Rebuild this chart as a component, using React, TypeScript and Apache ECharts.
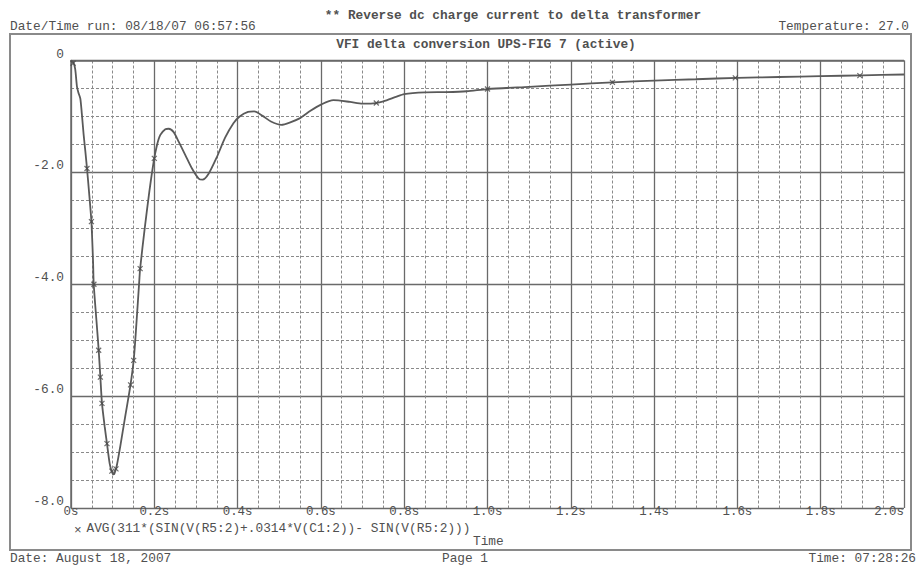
import React, { useEffect, useRef } from "react";
import * as echarts from "echarts";

// time (s) and value of the plotted trace
const TIME = [0, 0.005, 0.010, 0.0144, 0.018, 0.0224, 0.026, 0.0304, 0.0344, 0.0384, 0.044, 0.049, 0.053, 0.0545, 0.061, 0.0665, 0.0705, 0.0744, 0.081, 0.0864, 0.093, 0.0984, 0.102, 0.104, 0.110, 0.118, 0.130, 0.142, 0.1505, 0.156, 0.164, 0.166, 0.177, 0.188, 0.1985, 0.2065, 0.2145, 0.2265, 0.2345, 0.2465, 0.2585, 0.2745, 0.2905, 0.3065, 0.316, 0.33, 0.35, 0.37, 0.39, 0.405, 0.425, 0.44, 0.46, 0.48, 0.505, 0.525, 0.55, 0.575, 0.60, 0.63, 0.67, 0.70, 0.72, 0.75, 0.78, 0.80, 0.85, 0.90, 0.95, 1.0, 1.1, 1.2, 1.3, 1.4, 1.5, 1.6, 1.7, 1.8, 1.9, 2.0];
const VALUE = [0, -0.02, -0.15, -0.47, -0.58, -0.68, -0.95, -1.33, -1.62, -1.93, -2.41, -2.88, -3.6, -3.99, -4.64, -5.18, -5.66, -6.13, -6.55, -6.85, -7.21, -7.36, -7.40, -7.39, -7.24, -6.91, -6.37, -5.84, -5.36, -4.82, -3.93, -3.72, -3.0, -2.35, -1.81, -1.51, -1.33, -1.23, -1.22, -1.28, -1.45, -1.69, -1.93, -2.11, -2.13, -2.03, -1.73, -1.38, -1.12, -1.00, -0.92, -0.91, -0.99, -1.09, -1.15, -1.11, -1.03, -0.90, -0.79, -0.71, -0.74, -0.77, -0.77, -0.73, -0.65, -0.60, -0.57, -0.565, -0.55, -0.51, -0.47, -0.43, -0.39, -0.36, -0.335, -0.31, -0.295, -0.28, -0.265, -0.25];

// "x" data-point markers
const MARK_TIME = [0.005, 0.0384, 0.049, 0.055, 0.0665, 0.0705, 0.0744, 0.0864, 0.098, 0.108, 0.143, 0.1505, 0.166, 0.2, 0.733, 1.0, 1.3, 1.595, 1.894];
const MARK_VALUE = [-0.05, -1.93, -2.88, -4.0, -5.18, -5.66, -6.13, -6.85, -7.34, -7.30, -5.80, -5.36, -3.72, -1.75, -0.76, -0.51, -0.39, -0.31, -0.27];

const X_TICK_LABELS = ["0s", "0.2s", "0.4s", "0.6s", "0.8s", "1.0s", "1.2s", "1.4s", "1.6s", "1.8s", "2.0s"];
const Y_TICK_VALUES = [0, -2, -4, -6, -8];
const Y_TICK_LABELS = ["0", "-2.0", "-4.0", "-6.0", "-8.0"];

const TITLE_TOP = "** Reverse dc charge current to delta transformer";
const TITLE_PLOT = "VFI delta conversion UPS-FIG 7 (active)";
const RUN_INFO = "Date/Time run: 08/18/07 06:57:56";
const TEMP_INFO = "Temperature: 27.0";
const TRACE_NAME = "AVG(311*(SIN(V(R5:2)+.0314*V(C1:2))- SIN(V(R5:2)))";
const X_NAME = "Time";
const FOOT_DATE = "Date: August 18, 2007";
const FOOT_PAGE = "Page 1";
const FOOT_TIME = "Time: 07:28:26";

const FONT = '"Liberation Mono", "DejaVu Sans Mono", monospace';
const TXT = "#505050";

export default function App() {
  const ref = useRef<HTMLDivElement>(null);
  useEffect(() => {
    if (!ref.current) return;
    const chart = echarts.init(ref.current, null, { renderer: "svg" });
    const line = TIME.map((t, i) => [t, VALUE[i]]);
    const marks = MARK_TIME.map((t, i) => [t, MARK_VALUE[i]]);
    const txt = (x: number, y: number, text: string, align = "left", bold = false) => ({
      type: "text",
      x,
      y,
      style: {
        text,
        fill: TXT,
        font: `${bold ? "bold " : ""}12.8px ${FONT}`,
        lineHeight: 13,
        textAlign: align,
        textVerticalAlign: "middle",
      },
    });
    chart.setOption({
      animation: false,
      backgroundColor: "#ffffff",
      grid: { left: 71, top: 60.5, right: 15, bottom: 57 },
      xAxis: {
        type: "value",
        min: 0,
        max: 2,
        interval: 0.2,
        axisLine: { show: true, lineStyle: { color: "#6a6a6a", width: 1.5 } },
        axisTick: { show: false },
        minorTick: { show: false, splitNumber: 4 },
        axisLabel: {
          color: TXT,
          fontFamily: FONT,
          fontSize: 12.4,
          lineHeight: 12,
          margin: -2,
          alignMaxLabel: "right",
          formatter: (v: number) => X_TICK_LABELS[Math.round(v / 0.2)] ?? "",
        },
        splitLine: { show: true, lineStyle: { color: "#6a6a6a", width: 1.3 } },
        minorSplitLine: { show: true, lineStyle: { color: "#8a8a8a", width: 1, type: [3, 2] } },
      },
      yAxis: {
        type: "value",
        min: -8,
        max: 0,
        interval: 2,
        axisLine: { show: true, lineStyle: { color: "#6a6a6a", width: 1.5 } },
        axisTick: { show: false },
        minorTick: { show: false, splitNumber: 4 },
        axisLabel: {
          color: TXT,
          fontFamily: FONT,
          fontSize: 12.8,
          lineHeight: 13,
          margin: 7,
          verticalAlign: "bottom",
          formatter: (v: number) => {
            const i = Y_TICK_VALUES.findIndex((y) => Math.abs(y - v) < 1e-6);
            return i >= 0 ? Y_TICK_LABELS[i] : "";
          },
        },
        splitLine: { show: true, lineStyle: { color: "#6a6a6a", width: 1.3 } },
        minorSplitLine: { show: true, lineStyle: { color: "#8a8a8a", width: 1, type: [3, 2] } },
      },
      series: [
        {
          type: "line",
          data: line,
          showSymbol: false,
          smooth: 0.25,
          lineStyle: { color: "#5a5a5a", width: 1.8 },
          z: 3,
        },
        {
          type: "scatter",
          data: marks,
          symbol: "path://M0,0L10,10M10,0L0,10",
          symbolSize: 5,
          itemStyle: { color: "none", borderColor: "#4a4a4a", borderWidth: 1.2 },
          z: 4,
        },
      ],
      graphic: [
        {
          type: "rect",
          shape: { x: 10, y: 34, width: 901, height: 516 },
          style: { fill: "none", stroke: "#8a8a8a", lineWidth: 2 },
          silent: true,
        },
        txt(513, 15.5, TITLE_TOP, "center", true),
        txt(10, 26.5, RUN_INFO, "left"),
        txt(909, 26.5, TEMP_INFO, "right"),
        txt(486, 44, TITLE_PLOT, "center", true),
        txt(74, 530, "\u00d7", "left"),
        txt(86.5, 528, TRACE_NAME, "left"),
        txt(473, 541.5, X_NAME, "left"),
        txt(10, 558.5, FOOT_DATE, "left"),
        txt(465, 558.5, FOOT_PAGE, "center"),
        txt(916, 558.5, FOOT_TIME, "right"),
      ],
    });
    return () => chart.dispose();
  }, []);
  return (
    <div
      ref={ref}
      style={{ position: "fixed", left: 0, top: 0, width: 919, height: 565, background: "#fff" }}
    />
  );
}
